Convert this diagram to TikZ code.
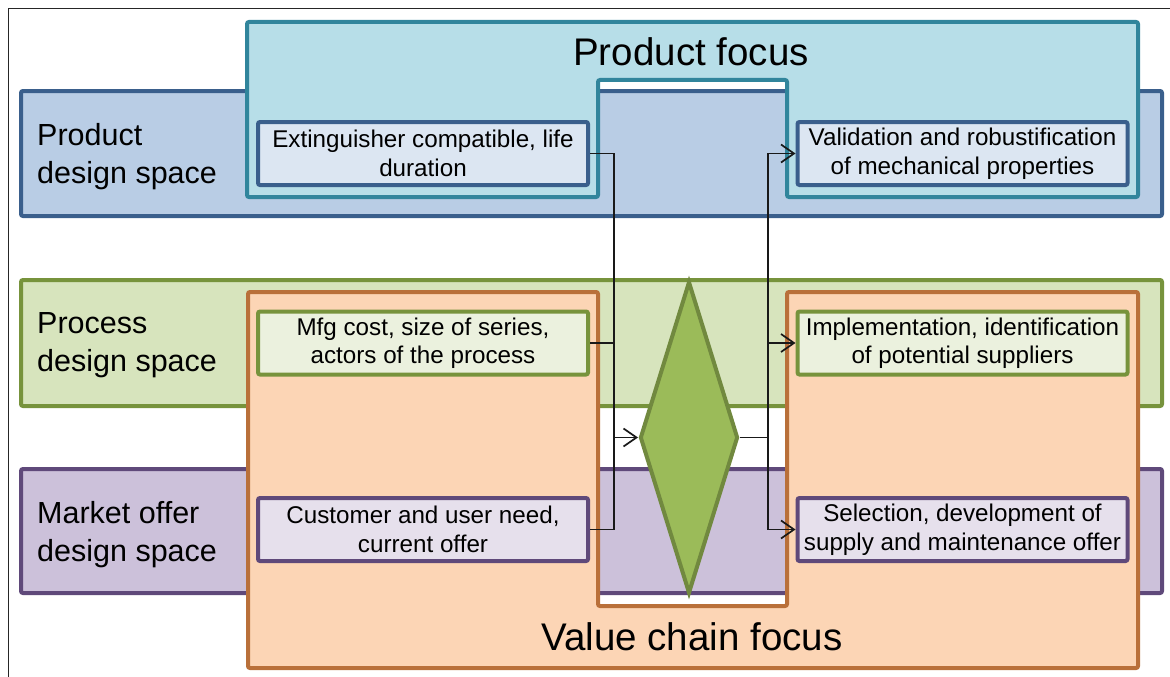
\documentclass[tikz,border=0pt]{standalone}
\usepackage{fontspec}
\setmainfont{Liberation Sans}
\usetikzlibrary{shapes.geometric,arrows.meta}
\definecolor{bandblueF}{HTML}{B9CDE5}
\definecolor{bandblueD}{HTML}{3A5F8C}
\definecolor{tealF}{HTML}{B7DEE8}
\definecolor{tealD}{HTML}{31859C}
\definecolor{bandgreenF}{HTML}{D7E4BD}
\definecolor{bandgreenD}{HTML}{77933C}
\definecolor{bandpurpleF}{HTML}{CCC1DA}
\definecolor{bandpurpleD}{HTML}{5F497A}
\definecolor{orangeF}{HTML}{FCD5B5}
\definecolor{orangeD}{HTML}{B9703A}
\definecolor{diamF}{HTML}{9BBB59}
\definecolor{diamD}{HTML}{71893F}
\definecolor{boxblueF}{HTML}{DCE6F2}
\definecolor{boxgreenF}{HTML}{EBF1DE}
\definecolor{boxpurpleF}{HTML}{E6E0EC}
\begin{document}
\begin{tikzpicture}[x=1pt,y=-1pt,
 band/.style={draw, line width=4pt, rounded corners=2pt, minimum width=1141pt, inner sep=0pt},
 infobox/.style={draw, line width=4pt, rounded corners=2pt, minimum width=330pt, minimum height=63pt, inner sep=0pt, align=center, font=\fontsize{24.2}{28.5}\selectfont},
 bandlabel/.style={anchor=north west, inner sep=0pt, align=left, font=\fontsize{30.5}{38}\selectfont},
 focuslabel/.style={anchor=base, inner sep=0pt, font=\fontsize{38.5}{46}\selectfont},
 focusshape/.style={line width=4pt, rounded corners=2pt},
 conn/.style={line width=1.4pt, black!90},
 arr/.style={conn, -{Straight Barb[length=13pt,width=18pt,line width=1.7pt]}}
]
\useasboundingbox (0,0) rectangle (1170,677);
\draw[line width=1.5pt, black!85] (8.5,677) -- (8.5,8.5) -- (1170,8.5);

% bands
\node[band, fill=bandblueF, draw=bandblueD, minimum height=125pt] (pband) at (591.5,153.5) {};
\node[band, fill=bandgreenF, draw=bandgreenD, minimum height=126pt] (cband) at (591.5,343) {};
\node[band, fill=bandpurpleF, draw=bandpurpleD, minimum height=124pt] (mband) at (591.5,531) {};

% focus shapes
\draw[focusshape, draw=tealD, fill=tealF] (247,22) -- (1138,22) -- (1138,197) -- (787,197) -- (787,80) -- (598,80) -- (598,197) -- (247,197) -- cycle;
\draw[focusshape, draw=orangeD, fill=orangeF] (248,292) -- (598,292) -- (598,606) -- (787,606) -- (787,292) -- (1138,292) -- (1138,668) -- (248,668) -- cycle;

% diamond
\node[diamond, draw=diamD, fill=diamF, line width=4pt, minimum width=98pt, minimum height=312pt, inner sep=0pt] (dia) at (689,437.5) {};

% boxes
\node[infobox, fill=boxblueF, draw=bandblueD] (b1) at (423,153.5) {Extinguisher compatible, life\\duration};
\node[infobox, fill=boxgreenF, draw=bandgreenD] (b2) at (423,343) {Mfg cost, size of series,\\actors of the process};
\node[infobox, fill=boxpurpleF, draw=bandpurpleD] (b3) at (423,529.5) {Customer and user need,\\current offer};
\node[infobox, fill=boxblueF, draw=bandblueD] (b4) at (962.5,153.5) {Validation and robustification\\of mechanical properties};
\node[infobox, fill=boxgreenF, draw=bandgreenD] (b5) at (962.5,343) {Implementation, identification\\of potential suppliers};
\node[infobox, fill=boxpurpleF, draw=bandpurpleD] (b6) at (962.5,529.5) {Selection, development of\\supply and maintenance offer};

% connectors
\coordinate (jl) at (614,437.5);
\coordinate (jr) at (768,437.5);
\draw[conn] (b1.east) -| (jl);
\draw[conn] (b2.east) -| (jl);
\draw[conn] (b3.east) -| (jl);
\draw[arr] (jl) -- (dia.west);
\draw[conn] (dia.east) -- (jr);
\draw[arr] (jr) |- (b4.west);
\draw[arr] (jr) |- (b5.west);
\draw[arr] (jr) |- (b6.west);

% labels
\node[bandlabel] (lp) at (37,123) {Product\\design space};
\node[bandlabel] (lc) at (37,312) {Process\\design space};
\node[bandlabel] (lm) at (37,501) {Market offer\\design space};
\node[focuslabel] (tp) at (691,66) {Product focus};
\node[focuslabel] (tv) at (692,650) {Value chain focus};
\end{tikzpicture}
\end{document}
